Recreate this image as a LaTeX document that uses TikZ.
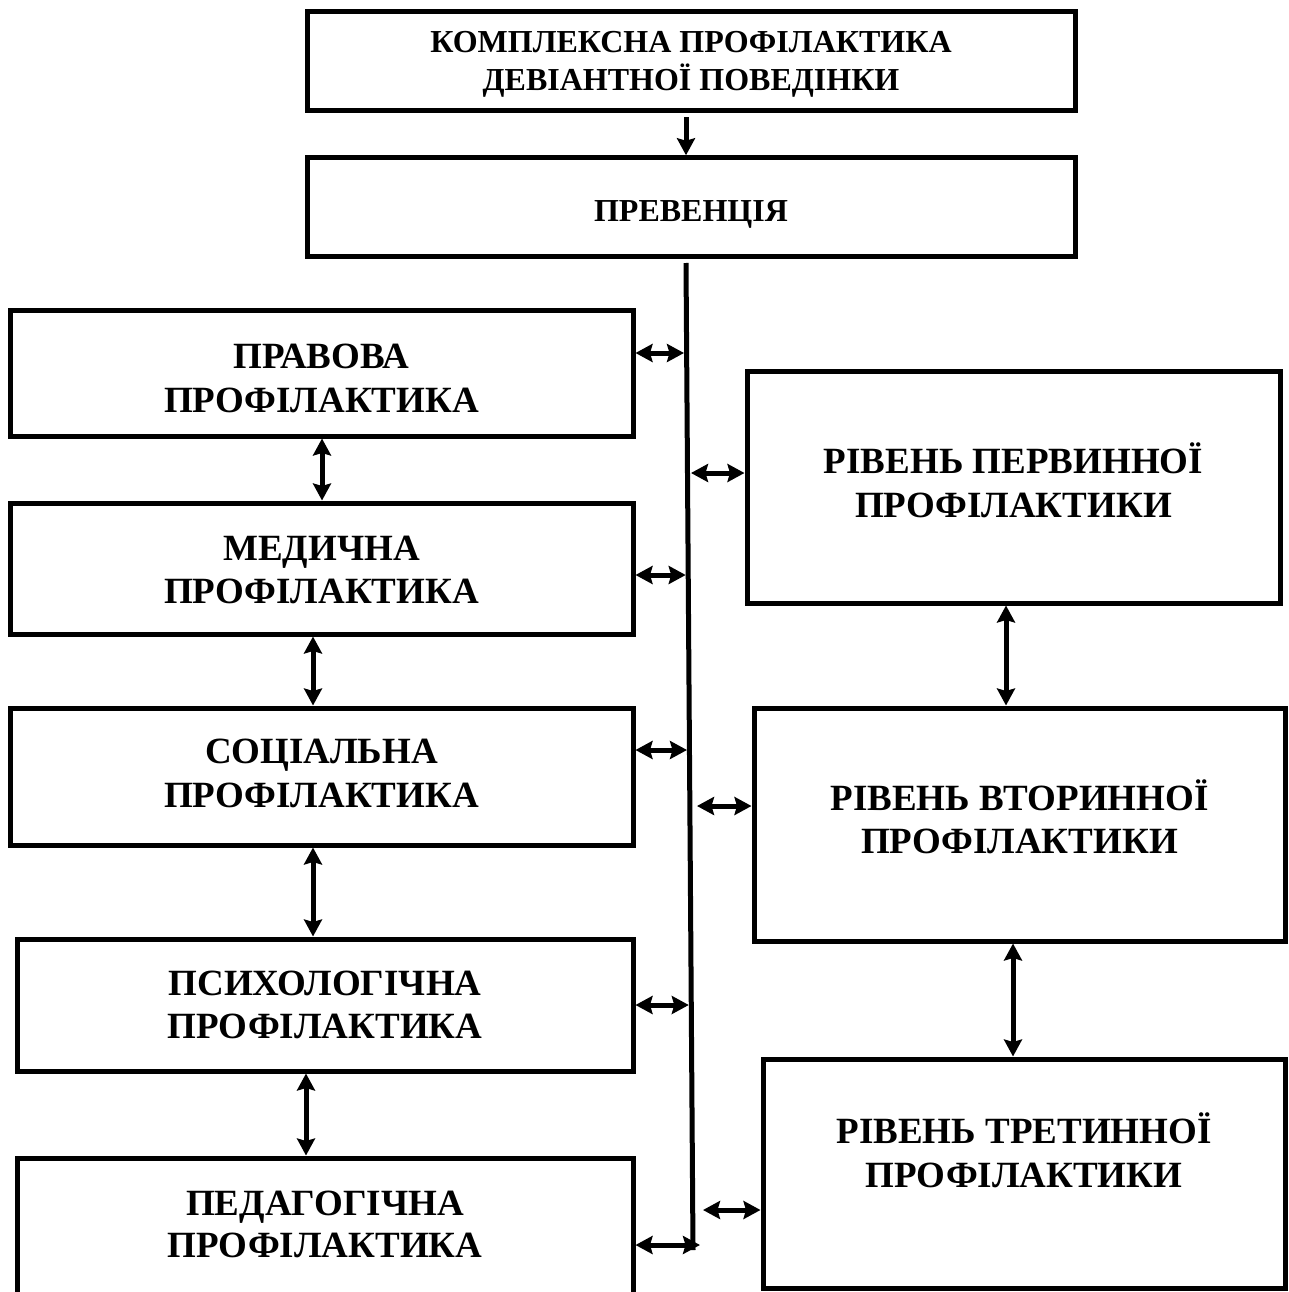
\documentclass[tikz,border=0pt]{standalone}
\usepackage{fontspec}
\setmainfont{Liberation Serif}
\usetikzlibrary{arrows.meta,calc}
\begin{document}
\begin{tikzpicture}[x=1pt,y=-1pt,
  box/.style={draw, line width=5pt, inner sep=0pt},
  big/.style={font=\fontsize{37}{44}\selectfont\bfseries, inner sep=0pt, anchor=base},
  small/.style={font=\fontsize{32}{38}\selectfont\bfseries, inner sep=0pt, anchor=base},
  ah/.tip={Stealth[length=17pt,width=18pt,inset=2.5pt]},
  dbl/.style={line width=5pt, ah-ah},
  sgl/.style={line width=5pt, -ah},
  trunk/.style={line width=5pt}]
\useasboundingbox (0,0) rectangle (1288,1292);

% boxes
\node[box, minimum width=768pt, minimum height=99pt]  (top)  at (691,61.5) {};
\node[box, minimum width=768pt, minimum height=98.5pt] (prev) at (691,207) {};
\node[box, minimum width=623pt, minimum height=126pt] (prav) at (321.5,373) {};
\node[box, minimum width=623pt, minimum height=131pt] (med)  at (321.5,568.5) {};
\node[box, minimum width=623pt, minimum height=137pt] (soc)  at (321.5,776.5) {};
\node[box, minimum width=616pt, minimum height=132pt] (psy)  at (325,1005) {};
\node[box, minimum width=616pt, minimum height=152pt] (ped)  at (325,1234) {};
\node[box, minimum width=533pt, minimum height=232pt] (perv) at (1013.5,487) {};
\node[box, minimum width=531pt, minimum height=233pt] (vtor) at (1019.5,824.5) {};
\node[box, minimum width=522pt, minimum height=229pt] (tret) at (1024,1173.5) {};

% texts
\node[small] (t0a) at (691,53) {КОМПЛЕКСНА ПРОФІЛАКТИКА};
\node[small] (t0b) at (691,91) {ДЕВІАНТНОЇ ПОВЕДІНКИ};
\node[small] (t1)  at (691,222) {ПРЕВЕНЦІЯ};
\node[big] (t2a) at (321.5,368) {ПРАВОВА};
\node[big] (t2b) at (321.5,412) {ПРОФІЛАКТИКА};
\node[big] (t3a) at (321.5,560) {МЕДИЧНА};
\node[big] (t3b) at (321.5,603) {ПРОФІЛАКТИКА};
\node[big] (t4a) at (321.5,763) {СОЦІАЛЬНА};
\node[big] (t4b) at (321.5,807) {ПРОФІЛАКТИКА};
\node[big] (t5a) at (325,995) {ПСИХОЛОГІЧНА};
\node[big] (t5b) at (325,1038) {ПРОФІЛАКТИКА};
\node[big] (t6a) at (325,1215) {ПЕДАГОГІЧНА};
\node[big] (t6b) at (325,1257) {ПРОФІЛАКТИКА};
\node[big] (t7a) at (1013.5,473) {РІВЕНЬ ПЕРВИННОЇ};
\node[big] (t7b) at (1013.5,517) {ПРОФІЛАКТИКИ};
\node[big] (t8a) at (1019.5,810) {РІВЕНЬ ВТОРИННОЇ};
\node[big] (t8b) at (1019.5,853) {ПРОФІЛАКТИКИ};
\node[big] (t9a) at (1024,1143) {РІВЕНЬ ТРЕТИННОЇ};
\node[big] (t9b) at (1024,1187) {ПРОФІЛАКТИКИ};

% top arrow
\draw[sgl] ([xshift=-5pt,yshift=-4pt]top.south) -- ([xshift=-5pt]prev.north);

% trunk line
\coordinate (ltop) at (686,263);
\coordinate (lbot) at (693,1250);
\draw[trunk] (ltop) -- (lbot);

% junctions on the trunk (left side)
\coordinate (j1) at (684,353);
\coordinate (j2) at (685.7,575);
\coordinate (j3) at (687,750);
\coordinate (j4) at (688.8,1005);
\coordinate (j5) at (700,1245);
\draw[dbl] (prav.east |- j1) -- (j1);
\draw[dbl] (med.east |- j2) -- (j2);
\draw[dbl] (soc.east |- j3) -- (j3);
\draw[dbl] (psy.east |- j4) -- (j4);
\draw[dbl] (ped.east |- j5) -- (j5);

% right side arrows
\coordinate (r1) at (691,473);
\coordinate (r2) at (697,806);
\coordinate (r3) at (703,1210);
\draw[dbl] (r1) -- (perv.west |- r1);
\draw[dbl] (r2) -- (vtor.west |- r2);
\draw[dbl] (r3) -- (tret.west |- r3);

% vertical arrows left
\draw[dbl] ([xshift=0.5pt]prav.south) -- ([xshift=0.5pt]prav.south |- med.north);
\draw[dbl] ([xshift=-8.5pt]med.south) -- ([xshift=-8.5pt]med.south |- soc.north);
\draw[dbl] ([xshift=-8.5pt]soc.south) -- ([xshift=-8.5pt]soc.south |- psy.north);
\draw[dbl] ([xshift=-19pt]psy.south) -- ([xshift=-19pt]psy.south |- ped.north);

% vertical arrows right
\draw[dbl] ([xshift=-7.5pt]perv.south) -- ([xshift=-7.5pt]perv.south |- vtor.north);
\draw[dbl] ([xshift=-6.5pt]vtor.south) -- ([xshift=-6.5pt]vtor.south |- tret.north);
\end{tikzpicture}
\end{document}
